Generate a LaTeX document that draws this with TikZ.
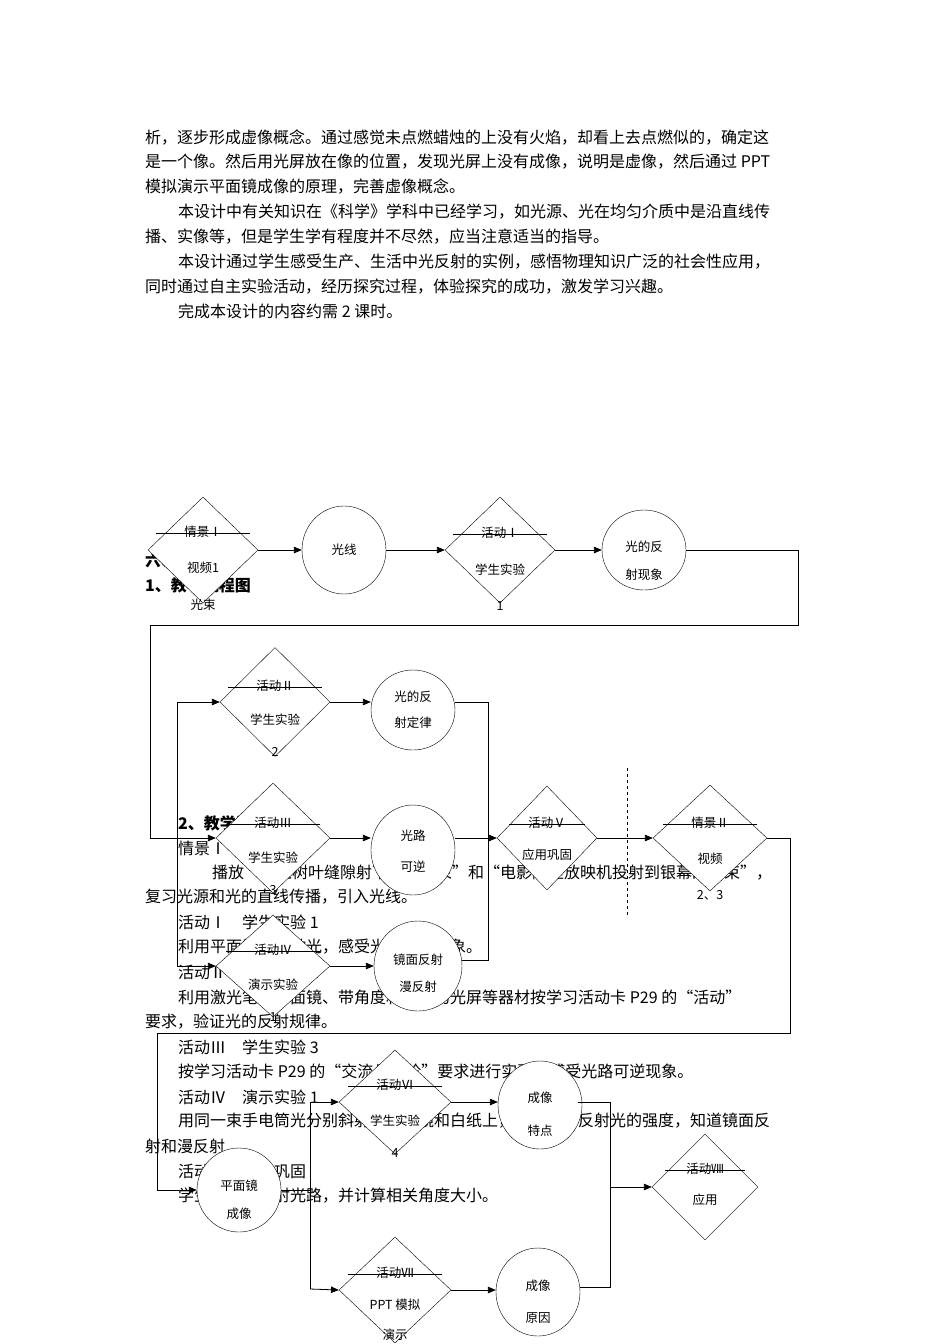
\documentclass[tikz,border=0pt]{standalone}
\usepackage{fontspec}
\setmainfont{Noto Sans CJK SC}
\usetikzlibrary{shapes.geometric}
\usetikzlibrary{arrows}
\usetikzlibrary{positioning}
\begin{document}
\begin{tikzpicture}[x=1pt,y=-1pt,
  txt/.style={anchor=west,inner sep=0pt,font=\fontsize{16}{16}\selectfont},
  lbl/.style={inner sep=0pt,font=\fontsize{12.5}{12.5}\selectfont},
  dia/.style={draw,diamond,fill=white,inner sep=0pt,minimum width=#1,minimum height=106pt},
  ell/.style={draw,ellipse,fill=white,inner sep=0pt,minimum width=84pt,minimum height=#1},
  arr/.style={-triangle 45,thick},
  lin/.style={thick}]
\useasboundingbox (0,0) rectangle (950,1344);
% page text
\node[txt] (t1) at (145,137) {析，逐步形成虚像概念。通过感觉未点燃蜡烛的上没有火焰，却看上去点燃似的，确定这};
\node[txt] (t2) at (145,162) {是一个像。然后用光屏放在像的位置，发现光屏上没有成像，说明是虚像，然后通过 PPT};
\node[txt] (t3) at (145,186) {模拟演示平面镜成像的原理，完善虚像概念。};
\node[txt] (t4) at (178,212) {本设计中有关知识在《科学》学科中已经学习，如光源、光在均匀介质中是沿直线传};
\node[txt] (t5) at (145,237) {播、实像等，但是学生学有程度并不尽然，应当注意适当的指导。};
\node[txt] (t6) at (178,262) {本设计通过学生感受生产、生活中光反射的实例，感悟物理知识广泛的社会性应用，};
\node[txt] (t7) at (145,287) {同时通过自主实验活动，经历探究过程，体验探究的成功，激发学习兴趣。};
\node[txt] (t8) at (178,311) {完成本设计的内容约需 2 课时。};
\node[txt,font=\fontsize{16}{16}\selectfont\bfseries] (h6) at (145,560) {六、教学过程};
\node[txt,font=\fontsize{16}{16}\selectfont\bfseries] (h1) at (145,585) {1、教学流程图};
\node[txt,font=\fontsize{16}{16}\selectfont\bfseries] (h2) at (178,823) {2、教学流程说明};
\node[txt] (s1) at (178,848) {情景Ⅰ};
\node[txt] (s2) at (212,873) {播放“透过树叶缝隙射下的阳光束”和“电影院里放映机投射到银幕的光束”，};
\node[txt] (s3) at (145,897) {复习光源和光的直线传播，引入光线。};
\node[txt] (s4) at (178,922) {活动Ⅰ\quad 学生实验 1};
\node[txt] (s5) at (178,947) {利用平面镜反射激光，感受光的反射现象。};
\node[txt] (s6) at (178,972) {活动Ⅱ\quad 学生实验 2};
\node[txt] (s7) at (178,997) {利用激光笔、平面镜、带角度和小门的光屏等器材按学习活动卡 P29 的“活动”};
\node[txt] (s8) at (145,1022) {要求，验证光的反射规律。};
\node[txt] (s9) at (178,1047) {活动Ⅲ\quad 学生实验 3};
\node[txt] (s10) at (178,1072) {按学习活动卡 P29 的“交流与讨论”要求进行实验，感受光路可逆现象。};
\node[txt] (s11) at (178,1097) {活动Ⅳ\quad 演示实验 1};
\node[txt] (s12) at (178,1121) {用同一束手电筒光分别斜射到平面镜和白纸上，比较各自反射光的强度，知道镜面反};
\node[txt] (s13) at (145,1146) {射和漫反射};
\node[txt] (s14) at (178,1171) {活动Ⅴ\quad 应用巩固};
\node[txt] (s15) at (178,1196) {学生练习作反射光路，并计算相关角度大小。};
% flow chart shapes
\node[dia=110pt] (qj1) at (203,550) {};
\node[ell=88pt] (gx) at (344,550) {};
\node[dia=110pt] (hd1) at (500,550) {};
\node[ell=80pt] (fsxx) at (644,550) {};
\node[dia=110pt,minimum height=109pt] (hd2) at (275,702) {};
\node[ell=80pt] (fsdl) at (413,710) {};
\node[dia=114pt,minimum height=110pt] (hd3) at (273,838) {};
\node[ell=90pt] (gl) at (413,850) {};
\node[dia=114pt,minimum height=102pt] (hd4) at (273,966) {};
\node[ell=90pt,minimum width=88pt] (jm) at (418,966) {};
\node[dia=100pt,minimum height=104pt] (hd5) at (547,838) {};
\node[dia=114pt] (qj2) at (710,838) {};
\node[ell=84pt] (pmj) at (239,1190) {};
\node[dia=112pt,minimum height=104pt] (hd6) at (395,1102) {};
\node[dia=112pt] (hd7) at (395,1290) {};
\node[ell=88pt] (cxtd) at (540,1105) {};
\node[ell=88pt] (cxyy) at (538,1292) {};
\node[dia=106pt] (hd8) at (705,1187) {};
% labels
\node[lbl] (qj1a) at (203,532) {情景Ⅰ};
\node[lbl] (qj1b) at (203,568) {视频1};
\node[lbl] (qj1c) at (203,605) {光束};
\node[lbl] (gxa) at (344,550) {光线};
\node[lbl] (hd1a) at (500,533) {活动Ⅰ};
\node[lbl] (hd1b) at (500,570) {学生实验};
\node[lbl] (hd1c) at (500,606) {1};
\node[lbl] (fsxxa) at (644,547) {光的反};
\node[lbl] (fsxxb) at (644,575) {射现象};
\node[lbl] (hd2a) at (275,686) {活动Ⅱ};
\node[lbl] (hd2b) at (275,720) {学生实验};
\node[lbl] (hd2c) at (275,752) {2};
\node[lbl] (fsdla) at (413,697) {光的反};
\node[lbl] (fsdlb) at (413,723) {射定律};
\node[lbl] (hd3a) at (273,823) {活动Ⅲ};
\node[lbl] (hd3b) at (273,858) {学生实验};
\node[lbl] (hd3c) at (273,890) {3};
\node[lbl] (gla) at (413,836) {光路};
\node[lbl] (glb) at (413,867) {可逆};
\node[lbl] (hd4a) at (273,950) {活动Ⅳ};
\node[lbl] (hd4b) at (273,985) {演示实验};
\node[lbl] (hd4c) at (273,1017) {1};
\node[lbl] (jma) at (418,960) {镜面反射};
\node[lbl] (jmb) at (418,987) {漫反射};
\node[lbl] (hd5a) at (547,823) {活动Ⅴ};
\node[lbl] (hd5b) at (547,855) {应用巩固};
\node[lbl] (qj2a) at (710,823) {情景Ⅱ};
\node[lbl] (qj2b) at (710,859) {视频};
\node[lbl] (qj2c) at (710,895) {2、3};
\node[lbl] (pmja) at (239,1186) {平面镜};
\node[lbl] (pmjb) at (239,1214) {成像};
\node[lbl] (hd6a) at (395,1085) {活动Ⅵ};
\node[lbl] (hd6b) at (395,1121) {学生实验};
\node[lbl] (hd6c) at (395,1153) {4};
\node[lbl] (hd7a) at (395,1273) {活动Ⅶ};
\node[lbl] (hd7b) at (395,1305) {PPT 模拟};
\node[lbl] (hd7c) at (395,1335) {演示};
\node[lbl] (cxtda) at (540,1098) {成像};
\node[lbl] (cxtdb) at (540,1131) {特点};
\node[lbl] (cxyya) at (538,1286) {成像};
\node[lbl] (cxyyb) at (538,1318) {原因};
\node[lbl] (hd8a) at (705,1169) {活动Ⅷ};
\node[lbl] (hd8b) at (705,1200) {应用};
% title strokes
\foreach \n/\w in {qj1a/47,hd1a/47,hd2a/47,hd3a/47,hd4a/47,hd5a/38,qj2a/47,hd6a/47,hd7a/47,hd8a/40}
  \draw (\n.center) ++(-\w,1) -- ++(2*\w,0);
% connectors
\draw[arr] (qj1.east) -- (gx.west);
\draw[arr] (gx.east) -- (hd1.west);
\draw[arr] (hd1.east) -- (fsxx.west);
\draw[arr] (fsxx.east) -- (798,550) -- (798,625) -- (150,625) -- (150,838) -- (hd3.west);
\draw[lin] (177,702) -- (177,966);
\draw[arr] (177,702) -- (hd2.west);
\draw[arr] (177,966) -- (hd4.west);
\draw[arr] (hd2.east) -- (fsdl.west |- hd2.east);
\draw[arr] (hd3.east) -- (gl.west |- hd3.east);
\draw[arr] (hd4.east) -- (jm.west);
\draw[lin] (fsdl.east |- hd2.east) -- (488,702) -- (488,960) -- (jm.east |- 0,960);
\draw[arr] (gl.east |- hd3.east) -- (hd5.west);
\draw[arr] (hd5.east) -- (qj2.west);
\draw[dashed] (627,768) -- (627,915);
\draw[arr] (qj2.east) -- (790,838) -- (790,1033) -- (157,1033) -- (157,1190) -- (pmj.west);
\draw[lin] (pmj.east) -- (310,1190);
\draw[lin] (310,1102) -- (310,1289);
\draw[arr] (310,1102) -- (hd6.west);
\draw[arr] (310,1289) -- (hd7.west);
\draw[arr] (hd6.east) -- (cxtd.west |- hd6.east);
\draw[arr] (hd7.east) -- (cxyy.west |- hd7.east);
\draw[lin] (578,1102) -- (610,1102) -- (610,1287) -- (580,1287);
\draw[arr] (610,1187) -- (hd8.west);
\end{tikzpicture}
\end{document}
